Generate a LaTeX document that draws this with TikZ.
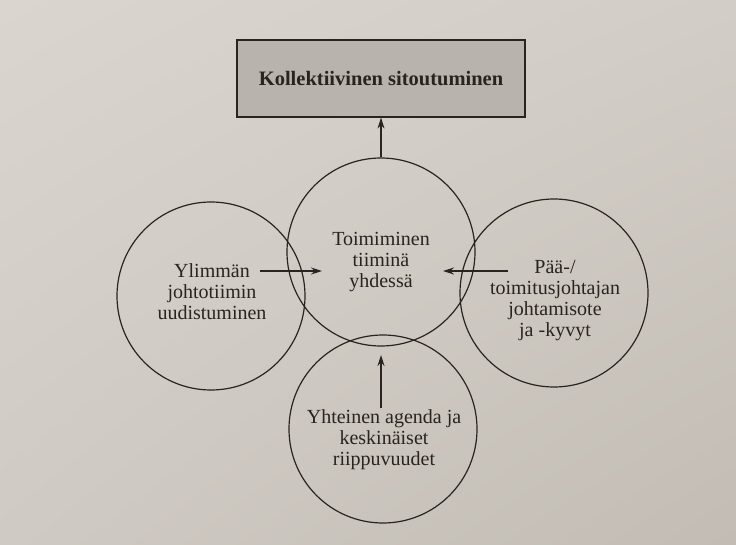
\documentclass[tikz,border=0pt]{standalone}
\usepackage{fontspec}
\setmainfont{Liberation Serif}
\usetikzlibrary{arrows.meta,shadings}
\definecolor{ink}{HTML}{2A2420}
\definecolor{boxfill}{HTML}{B8B3AD}
\definecolor{bgul}{RGB}{218,214,207}
\definecolor{bgur}{RGB}{210,205,198}
\definecolor{bgll}{RGB}{207,202,195}
\definecolor{bglr}{RGB}{194,188,180}
\tikzset{
  circ/.style={circle, draw=ink, line width=1.2pt, minimum size=188pt, inner sep=0pt},
  lbl/.style={align=center, text=ink, font=\fontsize{20}{21}\selectfont, inner sep=0pt},
  arr/.style={draw=ink, line width=1.2pt, -{Stealth[length=11pt,width=7pt]}},
  titlebox/.style={draw=ink, line width=1.2pt, fill=boxfill, minimum width=288pt, minimum height=77pt, font=\bfseries\fontsize{20.5}{22}\selectfont, text=ink}
}
\begin{document}
\begin{tikzpicture}[x=1pt,y=1pt]
\useasboundingbox (0,0) rectangle (736,544);
\shade[upper left=bgul, upper right=bgur, lower left=bgll, lower right=bglr] (0,0) rectangle (736,544);
\node[titlebox] (box) at (381,465.5) {Kollektiivinen sitoutuminen};
\node[circ] (cc) at (381,292) {};
\node[circ] (lc) at (211,248) {};
\node[circ] (rc) at (554,251) {};
\node[circ] (bc) at (383,115) {};
\node[lbl] (lt) at (212,252) {Ylimmän\\johtotiimin\\uudistuminen};
\node[lbl] (ct) at (381,282) {Toimiminen\\tiiminä\\yhdessä};
\node[lbl] (rt) at (555,243) {Pää-/\\toimitusjohtajan\\johtamisote\\ja -kyvyt};
\node[lbl] (bt) at (384,104) {Yhteinen agenda ja\\keskinäiset\\riippuvuudet};
\coordinate (la) at (260,273);
\coordinate (lb) at (322,273);
\coordinate (ra) at (508,273);
\coordinate (rb) at (443,273);
\coordinate (ba) at (381,136);
\coordinate (bb) at (381,189);
\draw[arr] (la) -- (lb);
\draw[arr] (ra) -- (rb);
\draw[arr] (ba) -- (bb);
\draw[arr] (cc.north) -- (box.south);
\end{tikzpicture}
\end{document}
